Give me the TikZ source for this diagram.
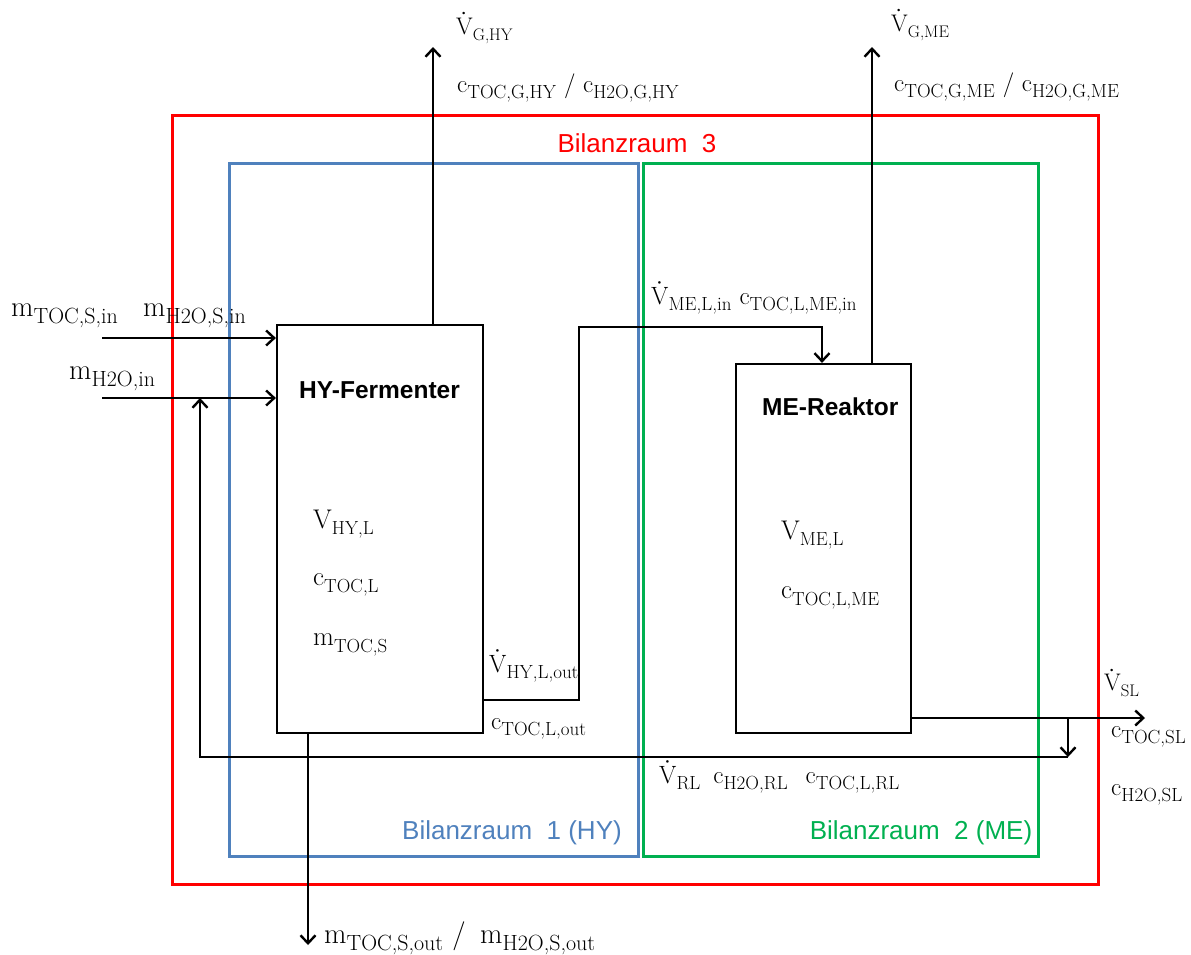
\documentclass[tikz,border=0pt]{standalone}
\usepackage{amsmath}
\usepackage{fontspec}
\usepackage{unicode-math}
\setmathfont{Latin Modern Math}
\setsansfont{Liberation Sans}
\usetikzlibrary{arrows.meta,positioning}
\definecolor{bilred}{RGB}{255,0,0}
\definecolor{bilblue}{HTML}{4F81BD}
\definecolor{bilgreen}{HTML}{00B050}
% larger subscripts, as in the drawing
\DeclareMathSizes{25}{25}{19}{14}
\DeclareMathSizes{29}{29}{22}{16}
% symbol with subscript, and flow symbol with dot
\newcommand{\ms}[2]{$\mathrm{#1}_{\text{#2}}$}
\newcommand{\msd}[2]{$\dot{\mathrm{#1}}_{\text{#2}}$}

\begin{document}
\begin{tikzpicture}[x=1pt,y=-1pt,line width=2.4pt,
  >={Straight Barb[length=8pt,width=15pt]},
  lbl/.style={inner sep=0pt,anchor=west,font=\fontsize{25}{28}\selectfont},
  vlbl/.style={lbl,font=\fontsize{24}{28}\selectfont},
  unitlbl/.style={lbl,font=\fontsize{27}{30}\selectfont},
  biglbl/.style={lbl,font=\fontsize{29}{32}\selectfont},
  unit/.style={draw,line width=2.2pt,inner sep=0pt},
  zonetext/.style={inner sep=0pt,font=\sffamily\fontsize{26}{30}\selectfont},
  unittitle/.style={inner sep=0pt,anchor=west,font=\sffamily\bfseries\fontsize{24.5}{28}\selectfont}]
\useasboundingbox (0,0) rectangle (1191,954);

% balance spaces
\draw[bilred,line width=3pt] (172,115) rectangle (1098,884);
\draw[bilblue,line width=3pt] (229,163) rectangle (638,856);
\draw[bilgreen,line width=3pt] (643,163) rectangle (1038,856);
\node[zonetext,bilred] (bz3txt) at (637,143) {Bilanzraum\ \ 3};
\node[zonetext,bilblue] (bz1txt) at (512,833) {Bilanzraum\ \ 1 (HY)};
\node[zonetext,bilgreen] (bz2txt) at (921,833) {Bilanzraum\ \ 2 (ME)};

% reactors
\node[unit,minimum width=206pt,minimum height=408pt] (hy) at (380,529) {};
\node[unit,minimum width=175pt,minimum height=369pt] (me) at (823.5,548.5) {};
\node[unittitle] (hytxt) at (298,390) {HY-Fermenter};
\node[unittitle] (metxt) at (761,407) {ME-Reaktor};
\node[unitlbl] (vhy) at (312,524) {\ms{V}{HY,L}};
\node[unitlbl] (chy) at (312,585) {\ms{c}{TOC,L}};
\node[unitlbl] (mhy) at (312,645) {\ms{m}{TOC,S}};
\node[unitlbl] (vme) at (780,535) {\ms{V}{ME,L}};
\node[unitlbl] (cme) at (780,598) {\ms{c}{TOC,L,ME}};

% end points of the streams
\coordinate (gashy) at (433,47);
\coordinate (gasme) at (872,47);
\coordinate (feeds) at (102,338);
\coordinate (feedw) at (102,398);
\coordinate (sout) at (308,945);
\coordinate (riser) at (579,700);
\coordinate (mein) at (822,327);
\coordinate (sl) at (1145,718);
\coordinate (split) at (1068,718);
\coordinate (rl) at (1068,757);
\coordinate (rlturn) at (200,757);

% streams
\draw[->] (hy.north -| gashy) -- (gashy);
\draw[->] (me.north -| gasme) -- (gasme);
\draw[->] (feeds) -- (feeds -| hy.west);
\draw[->] (feedw) -- (feedw -| hy.west);
\draw[->] (hy.south -| sout) -- (sout);
\draw[->] (hy.east |- riser) -- (riser) |- (mein) -- (mein |- me.north);
\draw[->] (me.east |- sl) -- (sl);
\draw[->] (split) -- (rl);
\draw[->] (rl) -- (rlturn) -- (rlturn |- feedw);

% stream labels
\node[vlbl] (lgashy) at (455,28) {\msd{V}{G,HY}};
\node[lbl] (lcgashy) at (456,88) {\ms{c}{TOC,G,HY} / \ms{c}{H2O,G,HY}};
\node[vlbl] (lgasme) at (890,25) {\msd{V}{G,ME}};
\node[lbl] (lcgasme) at (893,87) {\ms{c}{TOC,G,ME} / \ms{c}{H2O,G,ME}};
\node[biglbl] (lfeeds) at (10,316) {\ms{m}{TOC,S,in}};
\node[biglbl] (lfeedh) at (142,316) {\ms{m}{H2O,S,in}};
\node[biglbl] (lfeedw) at (68,379) {\ms{m}{H2O,in}};
\node[lbl] (lhyout) at (488,666) {\msd{V}{HY,L,out}};
\node[lbl] (lchyout) at (490,729) {\ms{c}{TOC,L,out}};
\node[lbl] (lmein) at (650,298) {\msd{V}{ME,L,in} \ms{c}{TOC,L,ME,in}};
\node[lbl] (lrl) at (658,777) {\msd{V}{RL}\enspace\ms{c}{H2O,RL}\hspace{0.7em}\ms{c}{TOC,L,RL}};
\node[vlbl] (lsl) at (1103,683) {\msd{V}{SL}};
\node[lbl] (lcsl) at (1110,737) {\ms{c}{TOC,SL}};
\node[lbl] (lhsl) at (1110,795) {\ms{c}{H2O,SL}};
\node[biglbl] (lsout) at (323,938) {\ms{m}{TOC,S,out} /\enspace\ms{m}{H2O,S,out}};
\end{tikzpicture}
\end{document}
